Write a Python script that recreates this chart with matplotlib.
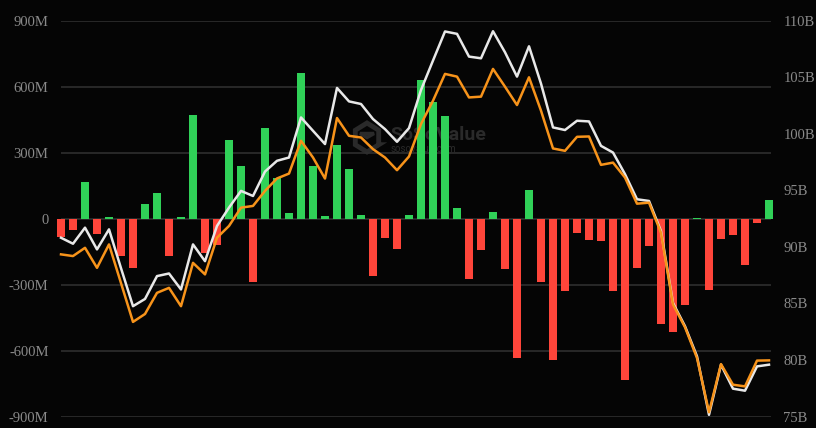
import matplotlib
matplotlib.use("Agg")
import matplotlib.pyplot as plt
import numpy as np

# Daily net inflow (millions USD)
net_inflow = [-85, -50, 166, -72, 5, -169, -223, 68, 118, -171,
              7, 470, -156, -121, 356, 239, -288, 412, 186, 25,
              663, 239, 12, 336, 224, 15, -262, -87, -137, 15,
              630, 531, 466, 47, -274, -144, 29, -230, -632, 130,
              -288, -644, -329, -68, -99, -102, -330, -732, -226, -123,
              -480, -518, -394, 2, -323, -91, -76, -212, -20, 83]

# Total net assets (billions USD) - white line
total_assets = [90.80, 90.27, 91.69, 89.77, 91.54, 88.11, 84.75, 85.39, 87.41, 87.64,
                86.23, 90.21, 88.73, 91.84, 93.46, 94.94, 94.49, 96.65, 97.60, 97.89,
                101.43, 100.25, 99.08, 104.04, 102.85, 102.62, 101.29, 100.40, 99.28, 100.49,
                103.86, 106.46, 109.03, 108.82, 106.81, 106.66, 109.05, 107.19, 105.04, 107.72,
                104.42, 100.55, 100.32, 101.14, 101.08, 98.92, 98.33, 96.42, 94.20, 94.05,
                91.39, 85.04, 82.98, 80.32, 75.15, 79.58, 77.46, 77.28, 79.43, 79.58]

# Second value series (billions USD) - orange line
btc_value = [89.33, 89.18, 89.91, 88.14, 90.21, 86.79, 83.36, 84.06, 85.93, 86.37,
             84.75, 88.58, 87.56, 90.80, 91.84, 93.46, 93.61, 94.94, 96.04, 96.47,
             99.37, 97.89, 96.03, 101.38, 99.81, 99.66, 98.63, 97.89, 96.77, 97.98,
             100.85, 102.91, 105.28, 105.04, 103.20, 103.27, 105.72, 104.15, 102.53, 104.98,
             102.03, 98.69, 98.48, 99.72, 99.75, 97.24, 97.44, 96.12, 93.81, 93.90,
             91.24, 84.90, 82.89, 80.17, 75.38, 79.63, 77.81, 77.66, 79.94, 79.96]

left_ticks = [-900, -600, -300, 0, 300, 600, 900]
left_labels = ["-900M", "-600M", "-300M", "0", "300M", "600M", "900M"]
right_ticks = [75, 80, 85, 90, 95, 100, 105, 110]
right_labels = ["75B", "80B", "85B", "90B", "95B", "100B", "105B", "110B"]

BG = "#050505"
GREEN = "#30d158"
RED = "#ff453a"
ORANGE = "#f7931a"
WHITE = "#e8e8e8"
GRID = "#2e2e2e"
TXT = "#8a8a8a"
WM = "#2a2a2a"

W, H = 816, 428
fig = plt.figure(figsize=(W / 100, H / 100), dpi=100, facecolor=BG)
left_px, right_px = 61, 771
top_px, bot_px = 20.5, 416.5
ax = fig.add_axes([left_px / W, (H - bot_px) / H, (right_px - left_px) / W, (bot_px - top_px) / H])
ax.set_facecolor(BG)

# watermark (behind bars and lines)
ax.text(390 / W, (H - 135) / H, "SoSoValue", color=WM, transform=fig.transFigure,
        fontsize=14, fontweight="bold", family="Roboto", ha="left", va="center", zorder=1)
ax.text(391 / W, (H - 149.5) / H, "sosovalue.com", color=WM, transform=fig.transFigure,
        fontsize=7, family="Roboto", ha="left", va="center", zorder=1)
ang = np.linspace(0, 2 * np.pi, 7) + np.pi / 6
hexx = 367 + 13.5 * np.cos(ang)
hexy = 137.5 + 14.5 * np.sin(ang)
ax.add_patch(plt.Polygon(np.column_stack([hexx / W, (H - hexy) / H]), closed=True,
                         fill=False, edgecolor=WM, linewidth=3.5,
                         transform=fig.transFigure, zorder=1))
ax.add_patch(plt.Polygon(np.column_stack([(hexx[[0, 2, 4]] * 0 + np.array([367, 374, 360])) / W,
                                          (H - np.array([137.5, 133.5, 133.5])) / H]),
                         closed=True, fill=False, edgecolor=WM, linewidth=2.5,
                         transform=fig.transFigure, zorder=1))

n = len(net_inflow)
x = np.arange(n)
colors = [GREEN if v >= 0 else RED for v in net_inflow]
ax.bar(x, net_inflow, width=0.66, color=colors, zorder=2, clip_on=False)

ax.set_xlim(0, (right_px - left_px) / 12.0)
ax.set_ylim(-900, 900)
ax.set_yticks(left_ticks)
ax.set_yticklabels(left_labels)
ax.set_xticks([])
ax.grid(axis="y", color=GRID, linewidth=1.2, zorder=0)
for s in ax.spines.values():
    s.set_visible(False)
ax.tick_params(axis="y", length=0, pad=9, labelcolor=TXT, labelsize=10.5)
for lab in ax.get_yticklabels():
    lab.set_fontfamily("Liberation Serif")

ax2 = ax.twinx()
ax2.set_ylim(75, 110)
ax2.plot(x, total_assets, color=WHITE, linewidth=1.8, zorder=3, clip_on=False)
ax2.plot(x, btc_value, color=ORANGE, linewidth=1.8, zorder=4, clip_on=False)
ax2.set_yticks(right_ticks)
ax2.set_yticklabels(right_labels)
for s in ax2.spines.values():
    s.set_visible(False)
ax2.tick_params(axis="y", length=0, pad=9, labelcolor=TXT, labelsize=10.5)
for lab in ax2.get_yticklabels():
    lab.set_fontfamily("Liberation Serif")

fig.savefig("out.png", dpi=100, facecolor=BG)
